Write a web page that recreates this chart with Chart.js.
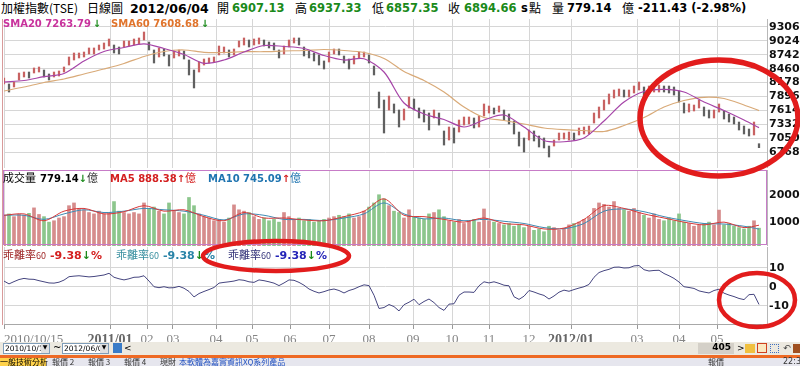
<!DOCTYPE html>
<html>
<head>
<meta charset="utf-8">
<script src="https://cdn.jsdelivr.net/npm/chart.js@4.4.1/dist/chart.umd.min.js"></script>
<style>
body{margin:0;width:800px;height:366px;overflow:hidden;background:#fff;position:relative;font-family:"DejaVu Sans",sans-serif}
.a{position:absolute;white-space:nowrap;line-height:1}
.cjk{font-family:"Noto Sans CJK TC",sans-serif}
.num{font-family:"DejaVu Sans",sans-serif;font-weight:bold}
.g{color:#1a8a1a}
canvas{position:absolute;left:0}
.lg{position:absolute;white-space:nowrap;line-height:1;display:flex;align-items:baseline}
</style>
</head>
<body>

<!-- title row -->
<div class="a cjk" style="left:1px;top:2px;font-size:12px">加權指數(TSE)</div>
<div class="a cjk" style="left:87px;top:2px;font-size:12px">日線圖</div>
<div class="a num" style="left:130px;top:3px;font-size:12.5px">2012/06/04</div>
<div class="a cjk" style="left:217px;top:2px;font-size:12px">開</div>
<div class="a num g" style="left:232px;top:3px;font-size:11.5px">6907.13</div>
<div class="a cjk" style="left:295px;top:2px;font-size:12px">高</div>
<div class="a num g" style="left:309px;top:3px;font-size:11.5px">6937.33</div>
<div class="a cjk" style="left:372px;top:2px;font-size:12px">低</div>
<div class="a num g" style="left:386px;top:3px;font-size:11.5px">6857.35</div>
<div class="a cjk" style="left:448px;top:2px;font-size:12px">收</div>
<div class="a num g" style="left:464px;top:3px;font-size:11.5px">6894.66</div>
<div class="a num" style="left:521px;top:3px;font-size:11.5px">s</div>
<div class="a cjk" style="left:529px;top:2px;font-size:12px">點</div>
<div class="a cjk" style="left:552px;top:2px;font-size:12px">量</div>
<div class="a num" style="left:567px;top:3px;font-size:11.5px">779.14</div>
<div class="a cjk" style="left:622px;top:2px;font-size:12px">億</div>
<div class="a num" style="left:638px;top:3px;font-size:11.5px">-211.43 (-2.98%)</div>

<canvas id="cPrice" width="800" height="149" style="top:19px"></canvas>
<canvas id="cVol" width="800" height="76" style="top:170px"></canvas>
<canvas id="cDev" width="800" height="100" style="top:246px"></canvas>

<!-- frame lines -->
<div class="a" style="left:2px;top:19px;width:1px;height:306px;background:#d89a9a"></div>
<div class="a" style="left:3px;top:170px;width:764px;height:75px;border:1px solid #c77cc7;box-sizing:border-box"></div>

<!-- legends -->
<div class="lg" style="left:3px;top:19px;font-size:10px">
  <span class="num" style="color:#c8329c">SMA20 7263.79</span><span class="num g" style="margin-left:2px">↓</span>
</div>
<div class="lg" style="left:111px;top:19px;font-size:10px">
  <span class="num" style="color:#e0742c">SMA60 7608.68</span><span class="num g" style="margin-left:2px">↓</span>
</div>
<div class="lg" style="left:3px;top:172px;font-size:10px">
  <span class="cjk" style="font-size:11px">成交量</span><span class="num" style="margin-left:4px">779.14</span><span class="num g">↓</span><span class="cjk" style="font-size:11px;color:#333">億</span>
</div>
<div class="lg" style="left:110px;top:172px;font-size:10px">
  <span class="num" style="color:#d42020">MA5 888.38</span><span class="num" style="color:#d42020">↑</span><span class="cjk" style="font-size:11px;color:#d42020">億</span>
</div>
<div class="lg" style="left:208px;top:172px;font-size:10px">
  <span class="num" style="color:#1f74b0">MA10 745.09</span><span class="num" style="color:#d42020">↑</span><span class="cjk" style="font-size:11px;color:#1f74b0">億</span>
</div>
<div class="lg" style="left:3px;top:249px;font-size:11px">
  <span class="cjk" style="color:#a02828;font-size:11px">乖離率<span style="font-size:9px">60</span></span><span class="num" style="color:#d42020;margin-left:4px">-9.38</span><span class="num g">↓</span><span class="num" style="color:#d42020">%</span>
</div>
<div class="lg" style="left:116px;top:249px;font-size:11px">
  <span class="cjk" style="color:#3a90a0;font-size:11px">乖離率<span style="font-size:9px">60</span></span><span class="num" style="color:#2a84a8;margin-left:4px">-9.38</span><span class="num g">↓</span><span class="num" style="color:#2a84a8">%</span>
</div>
<div class="lg" style="left:228px;top:249px;font-size:11px">
  <span class="cjk" style="color:#34347a;font-size:11px">乖離率<span style="font-size:9px">60</span></span><span class="num" style="color:#2424b8;margin-left:4px">-9.38</span><span class="num g">↓</span><span class="num" style="color:#2424b8">%</span>
</div>

<div class="a" style="left:4px;top:332px;font-family:'Liberation Serif',serif;font-size:13px;color:#808080">2010/10/15</div>

<!-- toolbar -->
<div class="a" style="left:0;top:342px;width:800px;height:13px;background:#ece9e0"></div>
<div class="a" style="left:3px;top:343px;width:47px;height:11px;background:#fff;border:1px solid #7f9db9;box-sizing:border-box;font-size:7.5px;color:#000;padding:1px 0 0 1px">2010/10/15</div>
<div class="a" style="left:41px;top:344px;width:8px;height:9px;background:#e0e0e0;font-size:6px;text-align:center">▼</div>
<div class="a" style="left:53px;top:343px;font-size:10px">~</div>
<div class="a" style="left:62px;top:343px;width:47px;height:11px;background:#fff;border:1px solid #7f9db9;box-sizing:border-box;font-size:7.5px;color:#000;padding:1px 0 0 1px">2012/06/04</div>
<div class="a" style="left:100px;top:344px;width:8px;height:9px;background:#e0e0e0;font-size:6px;text-align:center">▼</div>
<div class="a" style="left:113px;top:343px;width:9px;height:10px;background:#3a7cc8"></div>
<div class="a" style="left:124px;top:344px;font-size:9px">&lt;</div>
<div class="a num" style="left:698px;top:343px;width:36px;height:11px;background:#d4d0c8;font-size:9px;text-align:right;padding-right:3px;box-sizing:border-box">405</div>
<div class="a" style="left:737px;top:344px;font-size:9px">&gt;</div>
<div class="a" style="left:745px;top:344px;width:10px;height:9px;background:#f0c040"></div>
<div class="a" style="left:757px;top:343px;width:10px;height:10px;border:1px solid #d04020;box-sizing:border-box;background:#fbe8c0"></div>
<div class="a" style="left:770px;top:344px;width:9px;height:9px;border:1px dotted #4070c0;box-sizing:border-box"></div>
<div class="a" style="left:783px;top:344px;font-size:9px;color:#444">↶</div>
<div class="a" style="left:793px;top:344px;width:7px;height:9px;background:#a05020"></div>
<div class="a" style="left:0;top:355px;width:800px;height:3px;background:#ee6a24"></div>
<div class="a" style="left:0;top:358px;width:800px;height:8px;background:#e6e6ee"></div>
<div class="a cjk" style="left:0;top:358px;width:46px;height:8px;background:#ffd24a;font-size:8px">一般技術分析</div>
<div class="a cjk" style="left:52px;top:358px;font-size:8px;color:#333">報價 2</div>
<div class="a cjk" style="left:88px;top:358px;font-size:8px;color:#333">報價 3</div>
<div class="a cjk" style="left:124px;top:358px;font-size:8px;color:#333">報價 4</div>
<div class="a cjk" style="left:160px;top:358px;font-size:8px;color:#333">現財</div>
<div class="a cjk" style="left:179px;top:358px;font-size:8px;color:#2050c0">本軟體為嘉實資訊XQ系列產品</div>
<div class="a cjk" style="left:708px;top:358px;font-size:8px;color:#333">報價</div>
<div class="a" style="left:783px;top:358px;font-size:8px;color:#333">22:3</div>

<!-- red annotation ellipses -->
<svg class="a" style="left:0;top:0" width="800" height="366">
  <ellipse cx="719" cy="118" rx="79" ry="58" fill="none" stroke="#e21c1c" stroke-width="5.5"/>
  <ellipse cx="276" cy="256" rx="73" ry="15" fill="none" stroke="#e21c1c" stroke-width="4.5"/>
  <ellipse cx="757" cy="300" rx="38" ry="27" fill="none" stroke="#e21c1c" stroke-width="4.5"/>
</svg>

<script>
// daily sticks sampled about every 2-3 trading days, 2010/10/15 .. 2012/06/04
const hi = [8271,8149,8189,8372,8392,8392,8474,8494,8433,8352, 8392,8413,8494,8697,8778,8778,8798,8880,8880,8940,
  8981,9062,8940,8900,9022,9022,9062,9083,9204,9001, 8839,8880,8859,8738,8819,8839,8819,8636,8433,8595,
  8656,8677,8697,8920,8900,8839,8859,9022,9083,9042, 9062,9083,9042,9001,8981,8839,8920,9042,9083,9083,
  8900,8819,8778,8738,8616,8798,8859,8859,8717,8656, 8717,8798,8798,8738,8514,7986,7824,7905,7743,7621,
  7641,7885,7844,7662,7621,7560,7621,7560,7195,7276, 7256,7418,7479,7479,7459,7499,7743,7702,7662,7702,
  7621,7540,7398,7174,7053,7215,7195,7093,7053,6890, 7012,7154,7154,7174,7154,7256,7276,7296,7560,7682,
  7824,7946,8027,8047,8027,8027,8108,8189,8088,8108, 8128,8128,8108,8108,8088,8007,7763,7743,7722,7824,
  7682,7621,7621,7743,7601,7540,7479,7377,7296,7235, 7377,6937];
const lo = [8149,7986,8088,8230,8291,8271,8372,8392,8291,8230, 8291,8311,8392,8534,8636,8677,8697,8758,8758,8839,
  8859,8920,8778,8758,8900,8920,8940,8961,9042,8839, 8575,8697,8717,8514,8677,8717,8656,8332,8068,8392,
  8534,8575,8595,8738,8778,8697,8738,8900,8940,8900, 8940,8961,8920,8880,8839,8677,8758,8900,8981,8940,
  8717,8677,8616,8534,8453,8595,8758,8738,8575,8453, 8555,8677,8697,8575,8332,7662,7154,7621,7560,7276,
  7418,7662,7621,7459,7377,7215,7459,7316,6910,7012, 6951,7174,7316,7337,7256,7276,7499,7560,7540,7580,
  7418,7337,7134,6890,6768,7012,6992,6870,6850,6667, 6890,7012,7032,7012,7012,7114,7134,7134,7357,7459,
  7621,7743,7865,7905,7885,7885,7966,8027,7905,7966, 7986,7986,7986,7966,7925,7783,7560,7580,7601,7662,
  7499,7459,7459,7580,7438,7377,7337,7215,7134,7093, 7114,6857];
const vol = [1250,1300,1200,1280,1250,1320,1520,1280,1200,1000, 1050,1150,1200,1600,1700,1500,1450,1350,1300,1400,
  1300,1350,1750,1400,1350,1300,1350,1300,1700,1500, 1550,1400,1300,1700,1400,1350,1300,1900,1600,1300,
  1200,1150,1050,1100,1000,1150,1630,1450,1400,1350, 1200,1100,1150,1050,1100,1000,1350,1200,1100,1150,
  1050,1100,1000,1050,1100,1150,1200,1250,1200,1300, 1150,1200,1400,1550,1700,2000,1850,1600,1400,1350,
  1150,1450,1200,1150,1100,1300,1350,1450,1200,1050, 1000,1100,950,1050,1100,1000,1480,1050,1000,950,
  900,950,850,900,800,850,700,750,650,850, 800,700,780,900,950,1000,1100,1200,1500,1700,
  1650,1550,1750,1500,1450,1400,1500,1350,1250,1150, 1300,1100,1050,1150,1050,1300,1000,950,850,900,
  950,1000,900,1440,900,950,850,800,750,850, 1050,779];
const dev = [3.0,1.5,2.7,3.8,4.4,4.0,3.9,3.2,2.6,2.0, 1.9,2.4,3.5,5.3,5.6,5.8,5.5,5.2,5.4,5.8,
  6.2,7.1,5.0,4.2,3.6,4.2,5.0,5.1,5.8,3.0, 0.0,-0.5,0.0,-0.6,-0.5,0.2,-0.8,-2.5,-5.4,-3.6,
  -2.5,-1.5,-0.4,1.9,2.3,2.6,3.0,3.7,3.4,2.6, 2.3,3.6,3.2,2.6,1.9,0.6,2.0,3.6,3.4,2.3,
  0.8,-1.2,-2.4,-3.3,-2.6,-1.7,-1.2,-2.0,-3.3,-2.0, -1.2,0.0,1.0,0.6,-4.5,-11.5,-11.0,-9.4,-10.5,-12.8,
  -9.5,-8.2,-6.6,-9.5,-7.8,-6.5,-8.4,-11.0,-12.5,-9.2, -9.0,-4.5,-2.8,-2.8,-3.0,0.5,2.6,2.0,2.6,1.8,
  0.8,0.5,-5.3,-6.7,-5.0,-2.0,-2.8,-3.8,-4.6,-6.5, -4.9,-2.9,-1.8,-2.4,-1.5,-0.7,0.0,1.2,5.0,7.5,
  8.5,9.2,10.3,10.4,9.9,10.0,11.0,11.2,9.0,8.3, 8.6,8.7,7.0,5.8,4.4,2.5,0.0,-0.4,-0.9,-2.2,
  -2.8,-3.3,-2.0,-1.3,-3.4,-4.4,-5.2,-6.2,-6.8,-4.2, -4.0,-9.38];

// averages read every 4th stick (plus the last one)
const sma20 = [8189,8220,8297,8362,8616,8809,8890,8965,8870,8748, 8569,8636,8798,8930,8910,8870,8727,8636,8662,8392,
  7763,7540,7428,7276,7418,7519,7276,7002,6977,7053, 7398,7783,7997,8041,7986,7783,7611,7418,7264];
const sma60 = [8007,8088,8179,8250,8352,8453,8565,8707,8809,8839, 8792,8788,8804,8804,8819,8829,8849,8829,8788,8666,
  8403,8220,7986,7682,7469,7408,7337,7256,7221,7205, 7185,7306,7469,7682,7814,7879,7854,7723,7609];
const volMa5 = [1250,1300,1050,1400,1500,1300,1380,1600,1400,1450, 1200,1050,1350,1150,1150,1080,1050,1200,1400,1850,
  1250,1200,1100,1000,1150,950,900,750,780,1100, 1600,1500,1300,1150,1000,900,1000,800,888];
const volMa10 = [1250,1250,1100,1300,1450,1350,1400,1500,1450,1400, 1250,1080,1300,1250,1100,1100,1060,1150,1300,1700,
  1300,1120,1150,1050,1100,1030,950,800,760,950, 1400,1480,1380,1200,1060,950,930,850,745];

// month boundaries (in stick index) and their labels
const monthPos = [0,21.2,28.6,33.8,42.4,49.6,57.2,65,73,81.8,89.6,97,105,113.4,126.6,135,142.6];
const monthLabels = ['2010/10/15','2011/01','02','03','04','05','06','07','08','09','10','11','12','2012/01','03','04','05'];
const priceTicks = [6768,7050,7332,7614,7896,8178,8460,8742,9024,9306];
const volTicks = [1000,2000];
const devTicks = [-10,0,10];

const N = hi.length;
const maIdx = [];
for (let k = 0; k < sma20.length - 1; k++) maIdx.push(k * 4);
maIdx.push(N - 1);

const mid = hi.map((h, i) => (h + lo[i]) / 2);
const up = mid.map((m, i) => i === 0 ? true : m >= mid[i - 1]);

const GRID = '#d6d6d6';
const axisFont = { family: 'DejaVu Sans', size: 11, weight: 'bold' };

function xScale(showLabels) {
  return {
    type: 'linear', min: 0, max: 152.6, offset: false,
    afterBuildTicks: s => { s.ticks = monthPos.map(v => ({ value: v })); },
    ticks: {
      display: showLabels, autoSkip: false, maxRotation: 0, padding: 3,
      callback: (v, i) => i === 0 ? '' : monthLabels[i],
      font: ctx => {
        const b = monthLabels[ctx.index] && monthLabels[ctx.index].length > 2;
        return { family: 'Liberation Serif', size: b ? 14 : 13, weight: b ? 'bold' : 'normal' };
      },
      color: ctx => (monthLabels[ctx.index] && monthLabels[ctx.index].length > 2) ? '#666' : '#858585'
    },
    grid: { color: GRID, offset: false, drawTicks: showLabels, tickLength: 5, tickColor: '#999' },
    border: { display: showLabels, color: '#a8a8a8' }
  };
}

function yScale(min, max, ticks, grid) {
  return {
    position: 'right', min: min, max: max,
    afterBuildTicks: s => { s.ticks = ticks.map(v => ({ value: v })); },
    afterFit: s => { s.width = 33; s.paddingTop = 0; s.paddingBottom = 0; },
    ticks: { padding: 2, font: axisFont, color: '#111', autoSkip: false, callback: v => String(v) },
    grid: { display: grid, color: GRID, drawTicks: false },
    border: { display: true, color: '#b8b8b8' }
  };
}

const common = {
  responsive: false,
  animation: false,
  plugins: { legend: { display: false }, tooltip: { enabled: false } }
};

// price panel
new Chart(document.getElementById('cPrice'), {
  type: 'bar',
  data: {
    datasets: [
      { type: 'line', data: maIdx.map((x, k) => ({ x: x, y: sma20[k] })), borderColor: '#a645a8', borderWidth: 1.2, pointRadius: 0, tension: 0.3, order: 0 },
      { type: 'line', data: maIdx.map((x, k) => ({ x: x, y: sma60[k] })), borderColor: '#d9aa78', borderWidth: 1.2, pointRadius: 0, tension: 0.3, order: 0 },
      { data: hi.map((h, i) => ({ x: i, y: [lo[i], h] })), backgroundColor: up.map(u => u ? '#c86262' : '#606060'), barThickness: 1.6, order: 1 }
    ]
  },
  options: Object.assign({}, common, {
    layout: { padding: { left: 4, right: 0, top: 0, bottom: 0 } },
    scales: { x: xScale(false), y: yScale(6444, 9468, priceTicks, true) }
  })
});

// volume panel
new Chart(document.getElementById('cVol'), {
  type: 'bar',
  data: {
    datasets: [
      { type: 'line', data: maIdx.map((x, k) => ({ x: x, y: volMa5[k] })), borderColor: '#d83a3a', borderWidth: 1, pointRadius: 0, tension: 0.3, order: 0 },
      { type: 'line', data: maIdx.map((x, k) => ({ x: x, y: volMa10[k] })), borderColor: '#3f8ab3', borderWidth: 1, pointRadius: 0, tension: 0.3, order: 0 },
      { data: vol.map((v, i) => ({ x: i, y: v })), backgroundColor: up.map(u => u ? '#d68c8c' : '#8cc68c'), barThickness: 3, order: 1 }
    ]
  },
  options: Object.assign({}, common, {
    layout: { padding: { left: 4, right: 0, top: 0, bottom: 0 } },
    scales: { x: xScale(false), y: yScale(128, 2903, volTicks, false) }
  })
});

// deviation panel
new Chart(document.getElementById('cDev'), {
  type: 'line',
  data: {
    datasets: [
      { data: dev.map((v, i) => ({ x: i, y: v })), borderColor: '#45457f', borderWidth: 1, pointRadius: 0 }
    ]
  },
  options: Object.assign({}, common, {
    layout: { padding: { left: 4, right: 0, top: 1, bottom: 0 } },
    scales: {
      x: Object.assign(xScale(true), { afterFit: s => { s.height = 22; } }),
      y: yScale(-19.7, 21, devTicks, true)
    }
  })
});
</script>
</body>
</html>
